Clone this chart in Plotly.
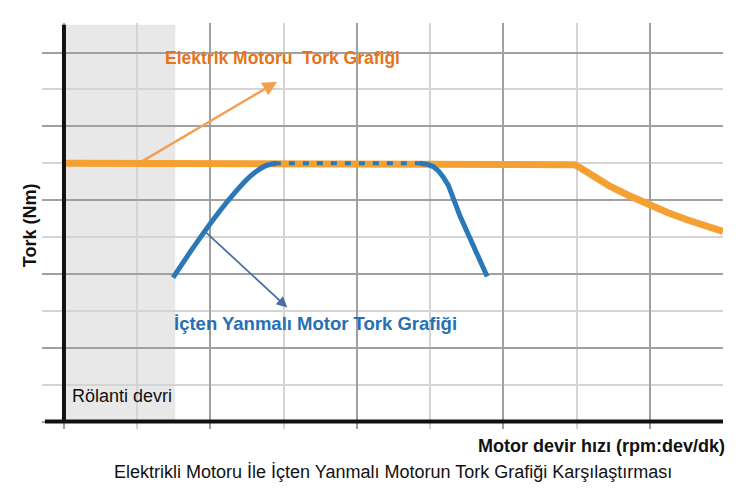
import plotly.graph_objects as go

# Electric motor torque curve (x: rpm units, y: torque units)
elec_rpm = [0, 1, 2, 3, 4, 5, 6, 6.87, 6.97, 7.05, 7.25, 7.46, 7.72, 7.98, 8.25, 8.51, 8.75, 9.0]
elec_torque = [7.0, 7.0, 7.0, 7.0, 7.0, 7.0, 7.0, 7.0, 6.96, 6.88, 6.63, 6.37, 6.12, 5.88, 5.66, 5.47, 5.30, 5.15]

# Internal combustion engine torque curve: rising, flat, falling parts
ice_rise_rpm = [1.49, 1.76, 2.03, 2.31, 2.55, 2.75, 2.90]
ice_rise_torque = [3.90, 4.70, 5.45, 6.15, 6.66, 6.93, 7.0]
ice_flat_rpm = [2.88, 4.86]
ice_flat_torque = [7.0, 7.0]
ice_fall_rpm = [4.86, 4.97, 5.05, 5.12, 5.18, 5.25, 5.41, 5.59, 5.78]
ice_fall_torque = [7.0, 6.97, 6.90, 6.78, 6.62, 6.40, 5.56, 4.74, 3.93]

idle_end = 1.52

ORANGE = "#F4A032"
BLUE = "#2A78B8"
FONT = "Liberation Sans, Arial, sans-serif"

fig = go.Figure()

fig.add_trace(go.Scatter(x=elec_rpm, y=elec_torque, mode="lines",
                         line=dict(color=ORANGE, width=7),
                         hoverinfo="skip", showlegend=False))
fig.add_trace(go.Scatter(x=ice_rise_rpm, y=ice_rise_torque, mode="lines",
                         line=dict(color=BLUE, width=5, shape="spline", smoothing=1),
                         hoverinfo="skip", showlegend=False))
fig.add_trace(go.Scatter(x=ice_flat_rpm, y=ice_flat_torque, mode="lines",
                         line=dict(color=BLUE, width=4, dash="6px,8px"),
                         hoverinfo="skip", showlegend=False))
fig.add_trace(go.Scatter(x=ice_fall_rpm, y=ice_fall_torque, mode="lines",
                         line=dict(color=BLUE, width=5),
                         hoverinfo="skip", showlegend=False))

shapes = [
    # idle region shading
    dict(type="rect", xref="x", yref="y", x0=0, x1=idle_end, y0=0, y1=10.75,
         fillcolor="#E8E8E8", line=dict(width=0), layer="below"),
    # y axis line
    dict(type="line", xref="x", yref="y", x0=0, x1=0, y0=0, y1=10.75,
         line=dict(color="#111111", width=4), layer="above"),
    # x axis line
    dict(type="line", xref="x", yref="y", x0=-0.26, x1=9.0, y0=0, y1=0,
         line=dict(color="#111111", width=4), layer="above"),
]

annotations = [
    # arrows
    dict(x=2.91, y=9.21, ax=1.04, ay=7.02, xref="x", yref="y", axref="x", ayref="y",
         text="", showarrow=True, arrowhead=2, arrowsize=1.2, arrowwidth=2.4,
         arrowcolor="#F2A050"),
    dict(x=3.05, y=3.09, ax=1.90, ay=5.20, xref="x", yref="y", axref="x", ayref="y",
         text="", showarrow=True, arrowhead=2, arrowsize=1.2, arrowwidth=1.8,
         arrowcolor="#4A6FA8"),
    # labels
    dict(x=2.98, y=9.86, xref="x", yref="y", text="<b>Elektrik Motoru  Tork Grafiği</b>",
         showarrow=False, font=dict(family=FONT, size=17.5, color="#E37520")),
    dict(x=3.43, y=2.66, xref="x", yref="y", text="<b>İçten Yanmalı Motor Tork Grafiği</b>",
         showarrow=False, font=dict(family=FONT, size=18.5, color="#2570B5")),
    dict(x=0.08, y=0.70, xref="x", yref="y", text="Rölanti devri", xanchor="left",
         showarrow=False, font=dict(family=FONT, size=18, color="#111111")),
    dict(x=-0.0176, y=0.502, xref="paper", yref="paper", text="<b>Tork (Nm)</b>",
         xanchor="center", yanchor="middle",
         textangle=-90, showarrow=False, font=dict(family=FONT, size=18, color="#111111")),
    dict(x=1.006, y=-0.042, xref="paper", yref="paper", xanchor="right", yanchor="middle",
         text="<b>Motor devir hızı (rpm:dev/dk)</b>", showarrow=False,
         font=dict(family=FONT, size=18, color="#111111")),
    dict(x=0.515, y=-0.106, xref="paper", yref="paper", xanchor="center", yanchor="middle",
         text="Elektrikli Motoru İle İçten Yanmalı Motorun Tork Grafiği Karşılaştırması",
         showarrow=False, font=dict(family=FONT, size=18, color="#111111")),
]

fig.update_layout(
    width=743, height=481,
    margin=dict(l=34, r=28, t=15, b=60),
    paper_bgcolor="white", plot_bgcolor="white",
    shapes=shapes, annotations=annotations,
    xaxis=dict(range=[-0.3, 9.0], tick0=0, dtick=2, showgrid=True, gridcolor="#A0A0A0",
               gridwidth=1.5, showticklabels=False, zeroline=False, showline=False, ticks="",
               minor=dict(tick0=1, dtick=1, showgrid=True, gridcolor="#D4D4D4", gridwidth=1.5)),
    yaxis=dict(range=[-0.2, 10.8], tick0=0, dtick=2, showgrid=True, gridcolor="#A0A0A0",
               gridwidth=1.5, showticklabels=False, zeroline=False, showline=False, ticks="",
               minor=dict(tick0=1, dtick=1, showgrid=True, gridcolor="#D4D4D4", gridwidth=1.5)),
)

fig.write_html("out.html")
